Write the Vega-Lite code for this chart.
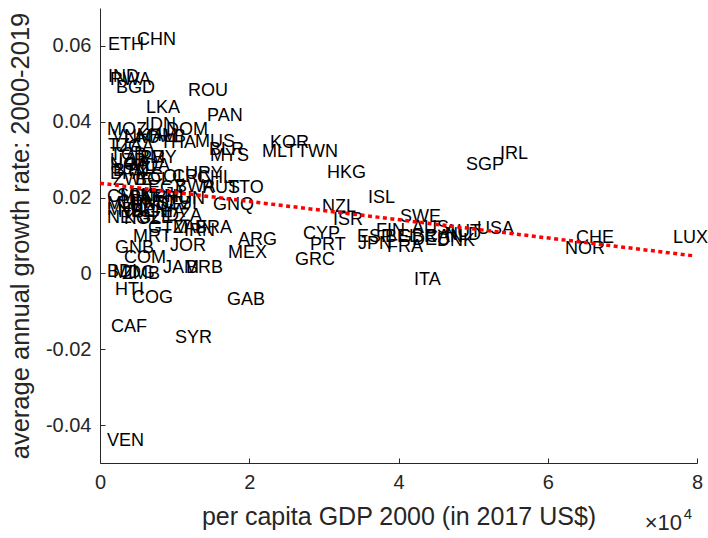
{
  "$schema": "https://vega.github.io/schema/vega-lite/v6.json",
  "width": 597,
  "height": 455,
  "autosize": {"type": "none"},
  "padding": {"left": 100, "top": 8, "right": 11, "bottom": 75},
  "config": {"view": {"stroke": null}, "font": "Liberation Sans", "background": "white"},
  "layer": [
    {
      "data": {"values": [
        {"iso": "ETH", "gdp": 1072, "g": 0.0602},
        {"iso": "CHN", "gdp": 4958, "g": 0.0616},
        {"iso": "IND", "gdp": 1072, "g": 0.0518},
        {"iso": "RWA", "gdp": 1340, "g": 0.0510},
        {"iso": "BGD", "gdp": 2144, "g": 0.0489},
        {"iso": "ROU", "gdp": 11792, "g": 0.0481},
        {"iso": "LKA", "gdp": 6164, "g": 0.0436},
        {"iso": "PAN", "gdp": 14338, "g": 0.0415},
        {"iso": "MOZ", "gdp": 938, "g": 0.0378},
        {"iso": "IDN", "gdp": 6030, "g": 0.0391},
        {"iso": "DOM", "gdp": 8844, "g": 0.0378},
        {"iso": "VNM", "gdp": 1608, "g": 0.0360},
        {"iso": "LAO", "gdp": 3216, "g": 0.0357},
        {"iso": "KHM", "gdp": 4958, "g": 0.0362},
        {"iso": "ALB", "gdp": 6968, "g": 0.0360},
        {"iso": "TZA", "gdp": 1072, "g": 0.0336},
        {"iso": "UGA", "gdp": 2010, "g": 0.0333},
        {"iso": "THA", "gdp": 8040, "g": 0.0344},
        {"iso": "MUS", "gdp": 12730, "g": 0.0347},
        {"iso": "BLR", "gdp": 14606, "g": 0.0325},
        {"iso": "MYS", "gdp": 14740, "g": 0.0310},
        {"iso": "TCD", "gdp": 1340, "g": 0.0312},
        {"iso": "UZB", "gdp": 1340, "g": 0.0296},
        {"iso": "ARM", "gdp": 3350, "g": 0.0304},
        {"iso": "PRY", "gdp": 5360, "g": 0.0304},
        {"iso": "NGA", "gdp": 1340, "g": 0.0286},
        {"iso": "MDA", "gdp": 4020, "g": 0.0283},
        {"iso": "BTN", "gdp": 1742, "g": 0.0270},
        {"iso": "BFA", "gdp": 1340, "g": 0.0262},
        {"iso": "AZE", "gdp": 3752, "g": 0.0275},
        {"iso": "ZWE", "gdp": 1742, "g": 0.0246},
        {"iso": "BOL", "gdp": 4690, "g": 0.0246},
        {"iso": "COL", "gdp": 6700, "g": 0.0254},
        {"iso": "CRI", "gdp": 9648, "g": 0.0254},
        {"iso": "URY", "gdp": 11390, "g": 0.0262},
        {"iso": "CHL", "gdp": 12998, "g": 0.0252},
        {"iso": "EGY", "gdp": 6432, "g": 0.0225},
        {"iso": "BWA", "gdp": 10050, "g": 0.0228},
        {"iso": "RUS", "gdp": 13668, "g": 0.0225},
        {"iso": "TTO", "gdp": 17152, "g": 0.0225},
        {"iso": "CMR", "gdp": 938, "g": 0.0202},
        {"iso": "SEN", "gdp": 2278, "g": 0.0204},
        {"iso": "PAK", "gdp": 3886, "g": 0.0199},
        {"iso": "KEN", "gdp": 5360, "g": 0.0202},
        {"iso": "PHL", "gdp": 7236, "g": 0.0202},
        {"iso": "TUN", "gdp": 9112, "g": 0.0196},
        {"iso": "MLI", "gdp": 938, "g": 0.0183},
        {"iso": "GIN", "gdp": 2278, "g": 0.0186},
        {"iso": "HND", "gdp": 4020, "g": 0.0180},
        {"iso": "NIC", "gdp": 5762, "g": 0.0186},
        {"iso": "SLV", "gdp": 7638, "g": 0.0183},
        {"iso": "FJI", "gdp": 9648, "g": 0.0183},
        {"iso": "GNQ", "gdp": 15142, "g": 0.0180},
        {"iso": "MWI", "gdp": 938, "g": 0.0167},
        {"iso": "NPL", "gdp": 2412, "g": 0.0162},
        {"iso": "BEN", "gdp": 4154, "g": 0.0165},
        {"iso": "GHA", "gdp": 6164, "g": 0.0162},
        {"iso": "NER", "gdp": 938, "g": 0.0146},
        {"iso": "KGZ", "gdp": 3216, "g": 0.0144},
        {"iso": "SLE", "gdp": 5226, "g": 0.0146},
        {"iso": "DZA", "gdp": 8844, "g": 0.0151},
        {"iso": "GTM", "gdp": 6432, "g": 0.0120},
        {"iso": "ZAF", "gdp": 9782, "g": 0.0120},
        {"iso": "IRN", "gdp": 11256, "g": 0.0112},
        {"iso": "BRA", "gdp": 12730, "g": 0.0120},
        {"iso": "MRT", "gdp": 4422, "g": 0.0096},
        {"iso": "JOR", "gdp": 9380, "g": 0.0072},
        {"iso": "GNB", "gdp": 2010, "g": 0.0067},
        {"iso": "ARG", "gdp": 18492, "g": 0.0088},
        {"iso": "MEX", "gdp": 17152, "g": 0.0054},
        {"iso": "COM", "gdp": 3216, "g": 0.0041},
        {"iso": "JAM", "gdp": 8442, "g": 0.0014},
        {"iso": "BRB", "gdp": 11524, "g": 0.0014},
        {"iso": "BDI", "gdp": 938, "g": 0.0004},
        {"iso": "MDG", "gdp": 1742, "g": 0.0001},
        {"iso": "ZMB", "gdp": 2948, "g": -0.0002},
        {"iso": "HTI", "gdp": 2010, "g": -0.0044},
        {"iso": "COG", "gdp": 4288, "g": -0.0065},
        {"iso": "GAB", "gdp": 17018, "g": -0.0070},
        {"iso": "CAF", "gdp": 1474, "g": -0.0141},
        {"iso": "SYR", "gdp": 10050, "g": -0.0170},
        {"iso": "VEN", "gdp": 938, "g": -0.0442},
        {"iso": "KOR", "gdp": 22780, "g": 0.0344},
        {"iso": "MLT", "gdp": 21708, "g": 0.0320},
        {"iso": "TWN", "gdp": 26398, "g": 0.0320},
        {"iso": "HKG", "gdp": 30418, "g": 0.0265},
        {"iso": "CYP", "gdp": 27202, "g": 0.0104},
        {"iso": "PRT", "gdp": 28140, "g": 0.0075},
        {"iso": "GRC", "gdp": 26130, "g": 0.0035},
        {"iso": "NZL", "gdp": 29748, "g": 0.0175},
        {"iso": "ISR", "gdp": 31222, "g": 0.0141},
        {"iso": "ISL", "gdp": 35912, "g": 0.0199},
        {"iso": "SWE", "gdp": 40200, "g": 0.0149},
        {"iso": "ESP", "gdp": 34438, "g": 0.0096},
        {"iso": "JPN", "gdp": 34572, "g": 0.0078},
        {"iso": "FIN", "gdp": 36984, "g": 0.0112},
        {"iso": "BEL", "gdp": 38190, "g": 0.0096},
        {"iso": "GBR", "gdp": 39932, "g": 0.0096},
        {"iso": "FRA", "gdp": 38458, "g": 0.0070},
        {"iso": "AUS", "gdp": 41808, "g": 0.0120},
        {"iso": "DEU", "gdp": 41808, "g": 0.0088},
        {"iso": "CAN", "gdp": 43550, "g": 0.0096},
        {"iso": "AUT", "gdp": 46230, "g": 0.0109},
        {"iso": "NLD", "gdp": 46230, "g": 0.0101},
        {"iso": "DNK", "gdp": 45158, "g": 0.0086},
        {"iso": "USA", "gdp": 50518, "g": 0.0117},
        {"iso": "ITA", "gdp": 42076, "g": -0.0017},
        {"iso": "SGP", "gdp": 49044, "g": 0.0286},
        {"iso": "IRL", "gdp": 53600, "g": 0.0315},
        {"iso": "CHE", "gdp": 63784, "g": 0.0093},
        {"iso": "NOR", "gdp": 62310, "g": 0.0064},
        {"iso": "LUX", "gdp": 76782, "g": 0.0093}
      ]},
      "mark": {"type": "text", "align": "left", "baseline": "middle", "fontSize": 18, "font": "Liberation Sans", "color": "black"},
      "encoding": {
        "x": {
          "field": "gdp", "type": "quantitative",
          "scale": {"domain": [0, 80000], "nice": false, "zero": false},
          "axis": {
            "values": [0, 20000, 40000, 60000, 80000],
            "labelExpr": "datum.value / 10000",
            "labelFlush": false,
            "title": "per capita GDP 2000 (in 2017 US$)",
            "grid": false,
            "tickSize": -5,
            "labelPadding": 14,
            "labelFontSize": 20,
            "labelFont": "Liberation Sans",
            "titleFont": "Liberation Sans",
            "titleFontSize": 25,
            "titleFontWeight": "normal",
            "titlePadding": 12,
            "domainColor": "#262626",
            "tickColor": "#262626",
            "labelColor": "#262626",
            "titleColor": "#262626"
          }
        },
        "y": {
          "field": "g", "type": "quantitative",
          "scale": {"domain": [-0.05, 0.07], "nice": false, "zero": false},
          "axis": {
            "values": [-0.04, -0.02, 0, 0.02, 0.04, 0.06],
            "labelExpr": "datum.value == 0 ? '0' : replace(format(datum.value, '.2f'), '\u2212', '-')",
            "labelFlush": false,
            "title": "average annual growth rate: 2000-2019",
            "grid": false,
            "tickSize": -5,
            "labelPadding": 14,
            "labelFontSize": 20,
            "labelFont": "Liberation Sans",
            "titleFont": "Liberation Sans",
            "titleFontSize": 25.5,
            "titleFontWeight": "normal",
            "titlePadding": 12,
            "domainColor": "#262626",
            "tickColor": "#262626",
            "labelColor": "#262626",
            "titleColor": "#262626"
          }
        },
        "text": {"field": "iso", "type": "nominal"}
      }
    },
    {
      "data": {"values": [
        {"gdp": 0, "fit": 0.0238},
        {"gdp": 79730, "fit": 0.0046}
      ]},
      "mark": {"type": "line", "color": "#ff0000", "strokeWidth": 3.5, "strokeDash": [4, 3.5], "strokeCap": "butt"},
      "encoding": {
        "x": {"field": "gdp", "type": "quantitative"},
        "y": {"field": "fit", "type": "quantitative"}
      }
    },
    {
      "data": {"values": [{"gdp": 80000, "g": -0.05, "t": "×10"}]},
      "mark": {"type": "text", "align": "right", "baseline": "alphabetic", "dx": -15, "dy": 67, "fontSize": 22, "font": "Liberation Sans", "color": "#262626"},
      "encoding": {
        "x": {"field": "gdp", "type": "quantitative"},
        "y": {"field": "g", "type": "quantitative"},
        "text": {"field": "t", "type": "nominal"}
      }
    },
    {
      "data": {"values": [{"gdp": 80000, "g": -0.05, "t": "4"}]},
      "mark": {"type": "text", "align": "right", "baseline": "alphabetic", "dx": -5, "dy": 56, "fontSize": 15, "font": "Liberation Sans", "color": "#262626"},
      "encoding": {
        "x": {"field": "gdp", "type": "quantitative"},
        "y": {"field": "g", "type": "quantitative"},
        "text": {"field": "t", "type": "nominal"}
      }
    }
  ]
}
